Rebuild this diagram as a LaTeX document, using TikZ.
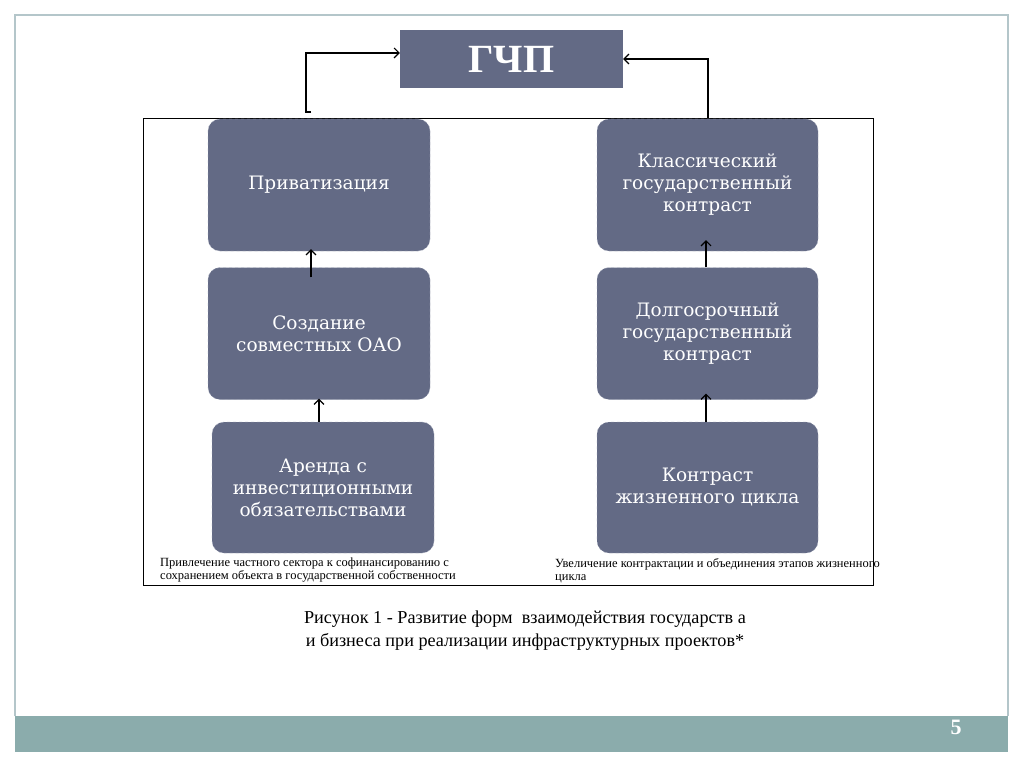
\documentclass[tikz,border=0pt]{standalone}
\usepackage{fontspec}
\setmainfont{Liberation Serif}
\newfontfamily\boxfont{DejaVu Serif}
\usepackage{tikz}
\usetikzlibrary{arrows.meta}
\usepackage{xcolor}
\definecolor{slate}{HTML}{636A85}
\definecolor{slateedge}{HTML}{A4A9BC}
\definecolor{barteal}{HTML}{8BACAC}
\definecolor{frameline}{HTML}{B4C6CA}
\tikzset{
    form-box/.style = {draw=slateedge, dashed, thin, fill=slate, text=white, rectangle, rounded corners=12pt,
        minimum width=222pt, minimum height=132pt, align=center, font=\boxfont\fontsize{18.5}{22}\selectfont},
    title-box/.style = {fill=slate, text=white, minimum width=223pt, minimum height=58pt,
        font=\fontsize{40}{44}\selectfont\bfseries},
    note-text/.style = {anchor=north west, align=left, inner sep=0pt, font=\fontsize{12.5}{13}\selectfont},
    up-arrow/.style = {-{Straight Barb[length=5pt, width=10pt]}, line width=1.1pt},
}
\begin{document}
\begin{tikzpicture}[x=1pt, y=-1pt]
\useasboundingbox (0,0) rectangle (1024,767);
% slide
\fill[white] (0,0) rectangle (1024,767);
\draw[frameline, line width=1.2pt] (15,716) -- (15,15) -- (1008,15) -- (1008,716);
\fill[barteal] (15,716) rectangle (1008,752);
\node[text=white, font=\fontsize{22}{24}\selectfont\bfseries] (pagenum) at (956,727) {5};

% frame round the two columns
\draw[black, thin] (143,118) rectangle (873,585);

\node[title-box] (gchp) at (511.5,59) {ГЧП};

% left column
\node[form-box] (priv) at (319,185) {Приватизация};
\node[form-box] (joint) at (319,333.5) {Создание\\совместных ОАО};
\node[form-box, minimum height=131pt] (lease) at (323,487.5) {Аренда с\\инвестиционными\\обязательствами};

% right column
\node[form-box, minimum width=221pt] (classic) at (707.5,185) {Классический\\государственный\\контраст};
\node[form-box, minimum width=221pt] (longterm) at (707.5,333.5) {Долгосрочный\\государственный\\контраст};
\node[form-box, minimum width=221pt, minimum height=131pt] (lifecycle) at (707.5,487.5) {Контраст\\жизненного цикла};

\draw[up-arrow] ([xshift=-8pt, yshift=-10pt]joint.north) -- ([xshift=-8pt, yshift=2pt]priv.south);
\draw[up-arrow] ([xshift=-4pt]lease.north) -- ([yshift=1pt]joint.south);
\draw[up-arrow] ([xshift=-1.5pt]longterm.north) -- ([xshift=-1.5pt, yshift=11pt]classic.south);
\draw[up-arrow] ([xshift=-1.5pt]lifecycle.north) -- ([xshift=-1.5pt, yshift=6pt]longterm.south);

% connectors to the top box
\coordinate (lfoot) at (311,112);
\coordinate (rfoot) at (708,118);
\draw[up-arrow] (lfoot) -- ++(-5,0) |- ([yshift=6pt]gchp.west);
\draw[up-arrow] (rfoot) |- (gchp.east);

% notes
\node[note-text] (leftnote) at (160,558) {Привлечение частного сектора к софинансированию с\\сохранением объекта в государственной собственности};
\node[note-text] (rightnote) at (555,558) {Увеличение контрактации и объединения этапов жизненного\\цикла};

\node[align=center, font=\fontsize{18.2}{23}\selectfont] (caption) at (525,631)
    {Рисунок 1 - Развитие форм \ взаимодействия государств а\\и бизнеса при реализации инфраструктурных проектов*};
\end{tikzpicture}
\end{document}
